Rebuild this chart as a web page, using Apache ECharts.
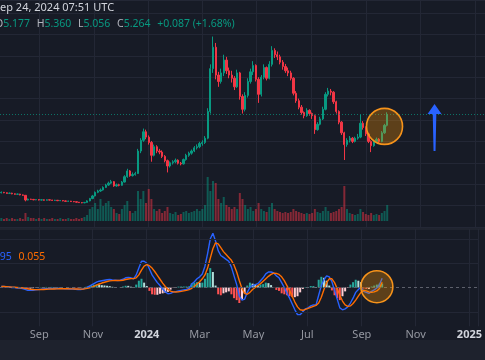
<!DOCTYPE html>
<html><head><meta charset="utf-8">
<script src="https://cdn.jsdelivr.net/npm/echarts@6/dist/echarts.min.js"></script>
<style>html,body{margin:0;padding:0;background:#171b26;overflow:hidden}#c{width:485px;height:360px}</style>
</head><body><div id="c"></div>
<script>
// ---- axis structure ----
const startDate = [2023, 6, 19];      // Jul 19 2023 (first category)
const dayCount = 543;                  // daily categories on the time axis
const candleStartDay = 1;              // first candle: Jul 20 2023
const candleStep = 3;                  // each candle aggregates 3 days
const tickDates = ['2023-09-01','2023-11-01','2024-01-01','2024-03-01','2024-05-01','2024-07-01','2024-09-01','2024-11-01','2025-01-01'];
const tickLabels = ['Sep','Nov','2024','Mar','May','Jul','Sep','Nov','2025'];

// ---- price candles [open, close, low, high] ----
const ohlc = [
[1.60,1.62,1.57,1.66],[1.62,1.60,1.58,1.64],[1.60,1.57,1.55,1.62],[1.57,1.58,1.54,1.61],[1.58,1.55,1.53,1.60],
[1.55,1.53,1.51,1.57],[1.53,1.54,1.50,1.56],[1.54,1.50,1.48,1.55],[1.50,1.48,1.46,1.52],[1.48,1.26,1.20,1.49],
[1.26,1.30,1.24,1.33],[1.30,1.29,1.27,1.32],[1.29,1.27,1.25,1.31],[1.27,1.28,1.25,1.30],[1.28,1.26,1.24,1.30],
[1.26,1.27,1.24,1.29],[1.27,1.25,1.23,1.29],[1.25,1.27,1.24,1.29],[1.27,1.26,1.24,1.28],[1.26,1.24,1.22,1.27],
[1.24,1.25,1.22,1.27],[1.25,1.23,1.21,1.26],[1.23,1.24,1.21,1.26],[1.24,1.22,1.20,1.25],[1.22,1.20,1.18,1.24],
[1.20,1.21,1.18,1.23],[1.21,1.19,1.17,1.22],[1.19,1.18,1.16,1.21],[1.18,1.16,1.14,1.19],[1.16,1.14,1.12,1.17],
[1.14,1.13,1.11,1.16],[1.13,1.15,1.11,1.17],[1.15,1.22,1.14,1.25],[1.22,1.33,1.20,1.36],[1.33,1.45,1.30,1.50],
[1.45,1.62,1.43,1.66],[1.62,1.68,1.58,1.74],[1.68,1.73,1.64,1.80],[1.73,1.85,1.70,1.90],[1.85,1.96,1.82,2.02],
[1.96,2.05,1.92,2.12],[2.05,2.12,2.00,2.20],[2.12,1.92,1.88,2.15],[1.92,1.97,1.88,2.03],[1.97,1.95,1.90,2.02],
[1.95,2.10,1.93,2.15],[2.10,2.35,2.08,2.42],[2.35,2.62,2.30,2.72],[2.62,2.40,2.35,2.66],[2.40,2.45,2.36,2.55],
[2.45,2.50,2.40,2.58],[2.50,3.55,2.48,3.65],[3.55,4.05,3.45,4.15],[4.05,4.45,3.98,4.60],[4.45,4.20,4.10,4.55],
[4.20,3.95,3.85,4.28],[3.95,3.35,3.05,4.02],[3.35,3.75,3.30,3.85],[3.75,3.55,3.45,3.82],[3.55,3.50,3.40,3.65],
[3.50,3.30,3.22,3.58],[3.30,3.10,3.02,3.36],[3.10,2.85,2.55,3.15],[2.85,3.00,2.78,3.06],[3.00,3.05,2.92,3.12],
[3.05,3.12,2.98,3.20],[3.12,2.98,2.92,3.16],[2.98,2.95,2.88,3.04],[2.95,3.15,2.92,3.20],[3.15,3.35,3.10,3.42],
[3.35,3.45,3.28,3.52],[3.45,3.55,3.38,3.62],[3.55,3.70,3.50,3.78],[3.70,3.75,3.62,3.86],[3.75,3.90,3.68,3.98],
[3.90,3.95,3.80,4.05],[3.95,4.15,3.88,4.25],[4.15,5.40,4.10,5.55],[5.40,7.40,5.30,7.60],[7.40,8.40,7.20,8.90],
[8.40,7.10,6.90,8.60],[7.10,6.80,6.55,7.25],[6.80,7.20,6.70,7.40],[7.20,7.80,7.05,8.05],[7.80,7.30,7.15,7.95],
[7.30,7.10,6.95,7.45],[7.10,6.95,6.75,7.30],[6.95,6.55,6.40,7.05],[6.55,7.20,6.50,7.35],[7.20,6.10,5.95,7.25],
[6.10,5.50,5.30,6.20],[5.50,6.15,5.40,6.30],[6.15,6.80,6.05,6.95],[6.80,7.25,6.70,7.40],[7.25,7.55,7.10,7.75],
[7.55,6.90,6.80,7.60],[6.90,6.20,5.80,7.00],[6.20,7.00,6.10,7.10],[7.00,7.45,6.90,7.60],[7.45,6.95,6.85,7.50],
[6.95,7.60,6.90,7.75],[7.60,8.25,7.50,8.45],[8.25,8.05,7.90,8.35],[8.05,7.95,7.80,8.20],[7.95,7.70,7.60,8.05],
[7.70,7.50,7.35,7.80],[7.50,7.30,7.20,7.62],[7.30,7.20,7.05,7.45],[7.20,6.95,6.85,7.30],[6.95,6.25,6.15,7.00],
[6.25,5.90,5.80,6.35],[5.90,5.60,5.50,6.00],[5.60,5.35,5.25,5.70],[5.35,5.20,5.08,5.40],[5.20,5.45,5.15,5.55],
[5.45,5.30,5.20,5.50],[5.30,5.20,5.05,5.35],[5.20,4.55,4.35,5.25],[4.55,4.80,4.50,4.90],[4.80,5.05,4.75,5.15],
[5.05,5.50,5.00,5.62],[5.50,6.20,5.45,6.30],[6.20,6.35,6.10,6.50],[6.35,6.30,6.15,6.45],[6.30,5.85,5.75,6.35],
[5.85,5.40,5.30,5.90],[5.40,4.90,4.80,5.45],[4.90,4.40,4.30,4.95],[4.40,3.85,3.13,4.45],[3.85,4.05,3.75,4.15],
[4.05,4.15,3.95,4.25],[4.15,4.00,3.92,4.20],[4.00,4.15,3.95,4.22],[4.15,4.20,4.08,4.35],[4.20,4.85,4.15,5.25],
[4.85,4.65,4.55,4.95],[4.65,4.35,4.25,4.70],[4.35,4.00,3.92,4.40],[4.00,3.80,3.50,4.05],[3.80,3.98,3.75,4.05],
[3.98,4.10,3.92,4.18],[4.10,4.00,3.90,4.15],[4.00,4.40,3.96,4.48],[4.40,4.75,4.35,4.82],[4.75,5.264,4.70,5.36]
];
const lastClose = 5.264;

// ---- volume ----
const volume = [
3,2,3,2,3,2,2,3,2,8,
4,3,3,2,3,2,3,2,2,3,2,2,3,2,2,3,2,2,3,2,3,4,
6,12,14,18,12,22,15,18,20,14,
12,8,7,12,16,20,10,8,10,
30,22,30,18,32,22,12,10,12,8,10,14,8,7,9,6,7,9,10,8,9,10,12,10,12,16,
44,30,40,38,22,18,24,16,14,12,14,12,28,22,16,12,14,10,12,18,12,10,9,14,18,12,10,9,8,9,
8,9,12,10,9,8,7,8,7,8,12,9,8,10,14,10,8,9,10,12,14,
35,12,8,7,6,7,12,9,7,6,8,6,7,6,8,10,16
];

// ---- MACD ----
const macdLine = [
0.01,0.01,0.005,0.005,0,0,-0.005,-0.005,-0.01,
-0.02,-0.03,-0.03,-0.028,-0.025,-0.02,-0.018,-0.015,-0.012,-0.012,-0.01,-0.01,-0.01,-0.01,-0.012,-0.013,-0.014,-0.015,-0.016,-0.018,-0.02,-0.02,-0.015,
-0.005,0.01,0.025,0.04,0.055,0.065,0.07,0.075,0.08,0.082,0.078,0.075,0.072,0.075,0.085,0.1,0.105,0.1,0.09,
0.13,0.2,0.27,0.27,0.25,0.19,0.13,0.09,0.05,
0.02,-0.015,-0.045,-0.065,-0.06,-0.048,-0.042,-0.035,-0.03,-0.025,-0.02,-0.01,0.035,0.06,0.09,0.11,0.14,
0.22,0.35,0.5,0.56,0.48,0.38,0.33,0.31,0.29,0.27,0.21,0.12,0.03,
-0.09,-0.13,-0.12,-0.05,0,0.02,0.03,0.04,0.07,0.1,0.14,0.16,0.16,0.15,0.12,0.1,0.05,0,
-0.06,-0.11,-0.17,-0.23,-0.28,-0.28,-0.25,-0.22,-0.21,-0.19,-0.18,-0.18,-0.08,0.02,
0.08,0.12,0.11,0.06,-0.03,-0.12,-0.21,-0.23,-0.22,-0.2,-0.16,-0.11,-0.05,-0.02,0.005,-0.04,-0.05,-0.06,-0.04,-0.025,-0.005,0.03,0.095
];
const signalLine = [
0.01,0.01,0.008,0.006,0.004,0.002,0,-0.002,-0.004,
-0.008,-0.014,-0.018,-0.021,-0.022,-0.022,-0.021,-0.02,-0.018,-0.017,-0.016,-0.015,-0.014,-0.013,-0.013,-0.013,-0.013,-0.014,-0.014,-0.015,-0.016,-0.017,-0.017,
-0.012,-0.006,0.002,0.012,0.024,0.036,0.046,0.054,0.062,0.068,0.071,0.072,0.072,0.072,0.075,0.082,0.088,0.092,0.091,
0.1,0.13,0.18,0.22,0.235,0.225,0.2,0.165,0.125,
0.085,0.045,0.01,-0.02,-0.038,-0.045,-0.046,-0.044,-0.04,-0.035,-0.03,-0.022,-0.008,0.01,0.035,0.06,0.09,
0.13,0.2,0.3,0.4,0.46,0.45,0.41,0.37,0.34,0.31,0.28,0.23,0.16,
0.07,-0.01,-0.06,-0.07,-0.05,-0.02,0,0.02,0.04,0.065,0.09,0.115,0.135,0.148,0.145,0.135,0.11,0.07,
0.02,-0.03,-0.09,-0.15,-0.2,-0.23,-0.235,-0.225,-0.215,-0.205,-0.195,-0.185,-0.16,-0.1,
-0.02,0.05,0.09,0.09,0.05,-0.01,-0.08,-0.14,-0.18,-0.195,-0.19,-0.165,-0.13,-0.09,-0.05,-0.03,-0.035,-0.045,-0.05,-0.045,-0.035,-0.01,0.055
];
const histogram = [
0,0,-0.003,-0.001,-0.004,-0.002,-0.005,-0.003,-0.006,
-0.012,-0.016,-0.012,-0.007,-0.003,0.002,0.003,0.005,0.006,0.005,0.006,0.005,0.004,0.003,0.001,0,-0.001,-0.001,-0.002,-0.003,-0.004,-0.003,0.002,
0.007,0.016,0.023,0.028,0.031,0.029,0.024,0.021,0.018,0.014,0.007,0.003,0,0.003,0.01,0.018,0.017,0.008,-0.001,
0.03,0.07,0.09,0.05,0.015,-0.035,-0.07,-0.075,-0.075,
-0.065,-0.06,-0.055,-0.045,-0.022,-0.003,0.004,0.009,0.01,0.01,0.01,0.012,0.043,0.05,0.055,0.05,0.05,
0.09,0.15,0.2,0.16,0.02,-0.07,-0.08,-0.06,-0.05,-0.04,-0.07,-0.11,-0.13,
-0.16,-0.12,-0.06,0.02,0.05,0.04,0.03,0.02,0.03,0.035,0.05,0.045,0.025,0.002,-0.025,-0.035,-0.06,-0.07,
-0.08,-0.09,-0.1,-0.1,-0.09,-0.05,-0.015,0.005,0.005,0.015,0.015,0.005,0.08,0.11,
0.1,0.07,0.02,-0.03,-0.08,-0.11,-0.13,-0.09,-0.04,-0.005,0.03,0.055,0.08,0.07,0.055,-0.01,-0.015,-0.015,0.01,0.02,0.03,0.04,0.04
];
const macdHeader = ['0.095', '0.055'];

// ---- build ----
function fmt(d){const m=d.getUTCMonth()+1, dd=d.getUTCDate();return d.getUTCFullYear()+'-'+(m<10?'0':'')+m+'-'+(dd<10?'0':'')+dd;}
const cats=[];
for(let k=0;k<dayCount;k++){cats.push(fmt(new Date(Date.UTC(startDate[0],startDate[1],startDate[2]+k))));}
const candleDates = ohlc.map((_,i)=>cats[candleStartDay+candleStep*i]);

const UP='#089981', DOWN='#f23645', GRID='#232735';
const FONT='"Noto Sans", sans-serif';
const isTick=(idx,val)=>tickDates.indexOf(val)>=0;

const chart = echarts.init(document.getElementById('c'), null, {renderer:'canvas'});
const xBase = {type:'category', data:cats, boundaryGap:true, axisLine:{show:false}, axisTick:{show:false}};
chart.setOption({
  backgroundColor:'#171b26',
  animation:false,
  grid:[
    {left:0,right:0,top:0,height:227},
    {left:0,right:0,top:141,height:80},
    {left:0,right:0,top:229.3,height:97}
  ],
  xAxis:[
    Object.assign({}, xBase, {gridIndex:0, axisLabel:{show:false}, splitLine:{show:true, interval:isTick, lineStyle:{color:GRID,width:1}}}),
    Object.assign({}, xBase, {gridIndex:1, axisLabel:{show:false}, splitLine:{show:false}}),
    Object.assign({}, xBase, {gridIndex:2, splitLine:{show:true, interval:isTick, lineStyle:{color:GRID,width:1}},
      axisLabel:{show:true, interval:isTick, margin:3, fontSize:11, fontFamily:FONT, color:'#9598a1',
        formatter:function(v){const k=tickDates.indexOf(v);const t=tickLabels[k];return /^\d{4}$/.test(t)?'{b|'+t+'}':t;},
        rich:{b:{fontSize:11,fontWeight:'bold',color:'#d1d4dc',fontFamily:FONT}}}})
  ],
  yAxis:[
    {gridIndex:0, type:'value', min:0, max:10.607, interval:1, axisLabel:{show:false}, axisLine:{show:false}, axisTick:{show:false}, splitLine:{show:true, lineStyle:{color:GRID}}},
    {gridIndex:1, type:'value', min:0, max:80, show:false, splitLine:{show:false}},
    {gridIndex:2, type:'value', min:-0.4, max:0.6, axisLabel:{show:false}, axisLine:{show:false}, axisTick:{show:false}, splitLine:{show:false}}
  ],
  series:[
    {type:'line', xAxisIndex:2, yAxisIndex:2, data:[[cats[0],0]], symbol:'none', lineStyle:{opacity:0}, z:1, silent:true,
      markLine:{silent:true, symbol:'none', label:{show:false}, animation:false,
        data:[{yAxis:0.25, lineStyle:{color:GRID,type:'solid',width:1}},{yAxis:-0.25, lineStyle:{color:GRID,type:'solid',width:1}},{yAxis:0.5, lineStyle:{color:GRID,type:'solid',width:1}},
              {yAxis:0, lineStyle:{color:'#5d606b',type:[3,3],width:1}}]}},
    {type:'bar', xAxisIndex:1, yAxisIndex:1, barWidth:2, z:2, silent:true,
      data: volume.map((v,i)=>({value:[candleDates[i], v], itemStyle:{color: ohlc[i][1]>=ohlc[i][0]?'rgba(8,153,129,0.5)':'rgba(242,54,69,0.5)'}}))},
    {type:'candlestick', xAxisIndex:0, yAxisIndex:0, barWidth:1.8, z:3, silent:true,
      encode:{x:0, y:[1,2,3,4]},
      data: ohlc.map((r,i)=>[candleDates[i], r[0], r[1], r[2], r[3]]),
      itemStyle:{color:UP, color0:DOWN, borderColor:UP, borderColor0:DOWN, borderWidth:1},
      markLine:{silent:true, symbol:'none', label:{show:false}, animation:false,
        lineStyle:{color:'rgba(8,153,129,0.7)', type:[1,2], width:1}, data:[{yAxis:lastClose}]}},
    {type:'bar', xAxisIndex:2, yAxisIndex:2, barWidth:2, z:2, silent:true,
      data: histogram.map((v,i)=>{const p=i>0?histogram[i-1]:0;let c;
        if(v>=0) c = v>=p?'#26a69a':'#b2dfdb'; else c = v<p?'#ff5252':'#ffcdd2';
        return {value:[candleDates[i], v], itemStyle:{color:c}};})},
    {type:'line', xAxisIndex:2, yAxisIndex:2, symbol:'none', z:4, silent:true, lineStyle:{color:'#2962ff', width:1.4},
      data: macdLine.map((v,i)=>[candleDates[i], v])},
    {type:'line', xAxisIndex:2, yAxisIndex:2, symbol:'none', z:4, silent:true, lineStyle:{color:'#ff6d00', width:1.4},
      data: signalLine.map((v,i)=>[candleDates[i], v])}
  ]
});

// ---- annotations anchored in data space ----
function px(ax, date, val){return chart.convertToPixel({xAxisIndex:ax, yAxisIndex:ax}, [date, val]);}
const c1 = px(0, '2024-09-21', 4.7);
const c2 = px(2, '2024-09-18', 0.008);
const aBot = px(0, '2024-11-16', 3.55), aTip = px(0, '2024-11-16', 5.75), aBase = px(0, '2024-11-16', 5.28);
const ax = aBot[0];
chart.setOption({graphic:[
  {type:'rect', shape:{x:0,y:340,width:485,height:20}, style:{fill:'#1e222d'}, z:10},
  {type:'line', shape:{x1:0,y1:229,x2:485,y2:229}, style:{stroke:'#2a2e39', lineWidth:1}, z:10},
  {type:'circle', shape:{cx:c1[0], cy:c1[1], r:18}, style:{fill:'rgba(255,152,0,0.3)', stroke:'#f7931a', lineWidth:1.6}, z:20},
  {type:'circle', shape:{cx:c2[0], cy:c2[1], r:16}, style:{fill:'rgba(255,152,0,0.3)', stroke:'#f7931a', lineWidth:1.6}, z:20},
  {type:'polygon', shape:{points:[[ax,aTip[1]],[ax+7,aBase[1]],[ax+1.8,aBase[1]],[ax+1,aBot[1]],[ax-1,aBot[1]],[ax-1.8,aBase[1]],[ax-7,aBase[1]]]},
    style:{fill:'#2962ff'}, z:20},
  {type:'text', x:-6, y:8, style:{text:'Sep 24, 2024 07:51 UTC', fill:'#d1d4dc', font:'11px '+FONT, verticalAlign:'middle'}, z:30},
  {type:'text', x:-5, y:24, style:{text:'{l|O}{v|5.177}  {l|H}{v|5.360}  {l|L}{v|5.056}  {l|C}{v|5.264}  {v|+0.087 (+1.68%)}', verticalAlign:'middle',
    rich:{l:{fill:'#b2b5be', font:'10.5px '+FONT}, v:{fill:'#089981', font:'10.5px '+FONT}}}, z:30},
  {type:'text', x:-15, y:257, style:{text:'{b|'+macdHeader[0]+'}  {o|'+macdHeader[1]+'}', verticalAlign:'middle',
    rich:{b:{fill:'#2962ff', font:'10.5px '+FONT}, o:{fill:'#ff6d00', font:'10.5px '+FONT}}}, z:30}
]});
</script>
</body></html>
